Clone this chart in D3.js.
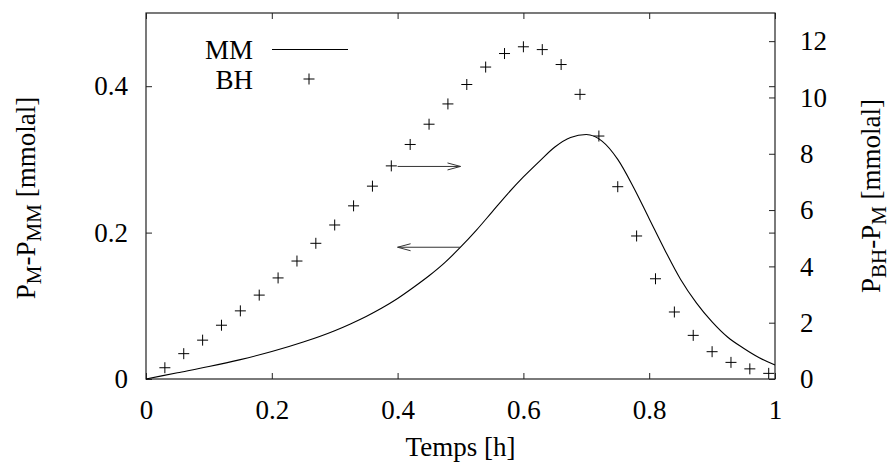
<!DOCTYPE html>
<html>
<head>
<meta charset="utf-8">
<script src="https://cdn.jsdelivr.net/npm/d3@7"></script>
<style>
  body { margin: 0; background: #fff; }
  svg { display: block; }
  svg text { font-family: "Liberation Serif", "Nimbus Roman", "FreeSerif", "Noto Serif", "DejaVu Serif", "Liberation Sans", serif; font-size: 27px; fill: #000; }
</style>
</head>
<body>
<svg id="chart" width="894" height="467"></svg>
<script>
// MM model curve (left axis)
const mmTime = [0, 0.05, 0.1, 0.15, 0.2, 0.25, 0.3, 0.325, 0.35, 0.375, 0.4, 0.425, 0.45,
  0.475, 0.5, 0.525, 0.55, 0.575, 0.6, 0.625, 0.65, 0.675, 0.7, 0.725, 0.75, 0.775, 0.8,
  0.825, 0.85, 0.875, 0.9, 0.925, 0.95, 0.975, 1.0];
const mmValue = [0, 0.0085, 0.017, 0.0265, 0.0375, 0.0505, 0.066, 0.0753, 0.0855, 0.097,
  0.110, 0.125, 0.141, 0.159, 0.180, 0.203, 0.228, 0.253, 0.276, 0.297, 0.317, 0.330,
  0.334, 0.325, 0.300, 0.262, 0.219, 0.176, 0.136, 0.104, 0.078, 0.057, 0.042, 0.029, 0.019];

// BH points (right axis)
const bhTime = [0.03, 0.06, 0.09, 0.12, 0.15, 0.18, 0.21, 0.24, 0.27, 0.30, 0.33, 0.36,
  0.39, 0.42, 0.45, 0.48, 0.51, 0.54, 0.57, 0.60, 0.63, 0.66, 0.69, 0.72, 0.75, 0.78,
  0.81, 0.84, 0.87, 0.90, 0.93, 0.96, 0.99];
const bhValue = [0.40, 0.90, 1.38, 1.91, 2.42, 2.98, 3.59, 4.19, 4.82, 5.47, 6.15, 6.85,
  7.57, 8.33, 9.05, 9.77, 10.46, 11.08, 11.56, 11.80, 11.70, 11.17, 10.11, 8.63, 6.83,
  5.08, 3.56, 2.38, 1.55, 0.97, 0.59, 0.36, 0.20];

const xTicks = [0, 0.2, 0.4, 0.6, 0.8, 1];
const xTickLabels = ["0", "0.2", "0.4", "0.6", "0.8", "1"];
const yTicks = [0, 0.2, 0.4];
const yTickLabels = ["0", "0.2", "0.4"];
const y2Ticks = [0, 2, 4, 6, 8, 10, 12];
const y2TickLabels = ["0", "2", "4", "6", "8", "10", "12"];

const margin = { top: 13, right: 119, bottom: 88, left: 146 },
  width = 894,
  height = 467,
  w = width - margin.left - margin.right,
  h = height - margin.top - margin.bottom;

const svg = d3.select("#chart");
const g = svg.append("g").attr("transform", "translate(" + margin.left + "," + margin.top + ")");

const x = d3.scaleLinear().domain([0, 1]).range([0, w]);
const y = d3.scaleLinear().domain([0, 0.5]).range([h, 0]);
const y2 = d3.scaleLinear().domain([0, 13]).range([h, 0]);

const tick = 6;

// bottom axis with labels
g.append("g")
  .attr("class", "axis")
  .attr("transform", "translate(0," + h + ")")
  .call(d3.axisBottom(x).tickValues(xTicks).tickSize(-tick).tickPadding(21)
    .tickFormat((d, i) => xTickLabels[i]));
// top mirror
g.append("g")
  .attr("class", "axis")
  .call(d3.axisTop(x).tickValues(xTicks).tickSize(-tick).tickFormat(""));
// left axis
g.append("g")
  .attr("class", "axis")
  .call(d3.axisLeft(y).tickValues(yTicks).tickSize(-tick).tickPadding(18)
    .tickFormat((d, i) => yTickLabels[i]));
// left ticks mirrored on right
g.append("g")
  .attr("class", "axis")
  .attr("transform", "translate(" + w + ",0)")
  .call(d3.axisRight(y).tickValues(yTicks).tickSize(-tick).tickFormat(""));
// right axis
g.append("g")
  .attr("class", "axis")
  .attr("transform", "translate(" + w + ",0)")
  .call(d3.axisRight(y2).tickValues(y2Ticks).tickSize(-tick).tickPadding(25)
    .tickFormat((d, i) => y2TickLabels[i]));

g.selectAll(".axis").attr("font-family", null).attr("font-size", null);
g.selectAll(".axis .domain").remove();
g.selectAll(".axis line").attr("stroke", "#222");
g.selectAll(".axis text").attr("fill", "#000");

// frame
g.append("rect")
  .attr("width", w)
  .attr("height", h)
  .attr("fill", "none")
  .attr("stroke", "#222")
  .attr("stroke-width", 1.2);

// MM curve
const line = d3.line()
  .x((d, i) => x(mmTime[i]))
  .y((d) => y(d))
  .curve(d3.curveMonotoneX);

g.append("path")
  .datum(mmValue)
  .attr("d", line)
  .attr("fill", "none")
  .attr("stroke", "#000")
  .attr("stroke-width", 1.1);

// BH points as plus signs
const plus = 5.5;
const pts = g.append("g").selectAll("g.pt")
  .data(bhValue)
  .enter()
  .append("g")
  .attr("transform", (d, i) => "translate(" + x(bhTime[i]) + "," + y2(d) + ")");
pts.append("line").attr("x1", -plus).attr("x2", plus).attr("stroke", "#000");
pts.append("line").attr("y1", -plus).attr("y2", plus).attr("stroke", "#000");

// arrows pointing to the axis each series belongs to
function arrow(x1, y1, x2, y2v) {
  const a = g.append("g").attr("stroke", "#333").attr("stroke-width", 1).attr("fill", "none");
  a.append("line").attr("x1", x1).attr("y1", y1).attr("x2", x2).attr("y2", y2v);
  const dir = x2 > x1 ? -1 : 1;
  a.append("path").attr("d",
    "M" + (x2 + dir * 13) + "," + (y1 - 3.5) + "L" + x2 + "," + y2v + "L" + (x2 + dir * 13) + "," + (y1 + 3.5));
}
arrow(x(0.4), y2(7.55), x(0.5), y2(7.55));
arrow(x(0.5), y(0.18), x(0.4), y(0.18));

// legend
const legend = g.append("g");
legend.append("text").attr("x", 253 - margin.left).attr("y", 59 - margin.top)
  .attr("text-anchor", "end").text("MM");
legend.append("line")
  .attr("x1", 272 - margin.left).attr("x2", 348 - margin.left)
  .attr("y1", 49.5 - margin.top).attr("y2", 49.5 - margin.top)
  .attr("stroke", "#000").attr("stroke-width", 1.1);
legend.append("text").attr("x", 253 - margin.left).attr("y", 89 - margin.top)
  .attr("text-anchor", "end").text("BH");
const lp = legend.append("g").attr("transform", "translate(" + (309 - margin.left) + "," + (79 - margin.top) + ")");
lp.append("line").attr("x1", -plus).attr("x2", plus).attr("stroke", "#000");
lp.append("line").attr("y1", -plus).attr("y2", plus).attr("stroke", "#000");

// axis titles
svg.append("text")
  .attr("x", margin.left + w / 2)
  .attr("y", 456)
  .attr("text-anchor", "middle")
  .text("Temps [h]");

function subLabel(parent, parts) {
  const t = parent.append("text").attr("text-anchor", "middle");
  parts.forEach((p) => {
    if (p.sub) {
      t.append("tspan").attr("dy", 6).style("font-size", "21px").text(p.s);
    } else {
      t.append("tspan").attr("dy", p.after ? -6 : 0).text(p.s);
    }
  });
  return t;
}

subLabel(svg, [{ s: "P" }, { s: "M", sub: true }, { s: "-P", after: true }, { s: "MM", sub: true }, { s: " [mmolal]", after: true }])
  .attr("transform", "translate(35,198) rotate(-90)");

subLabel(svg, [{ s: "P" }, { s: "BH", sub: true }, { s: "-P", after: true }, { s: "M", sub: true }, { s: " [mmolal]", after: true }])
  .attr("transform", "translate(880,196) rotate(-90)");
</script>
</body>
</html>
